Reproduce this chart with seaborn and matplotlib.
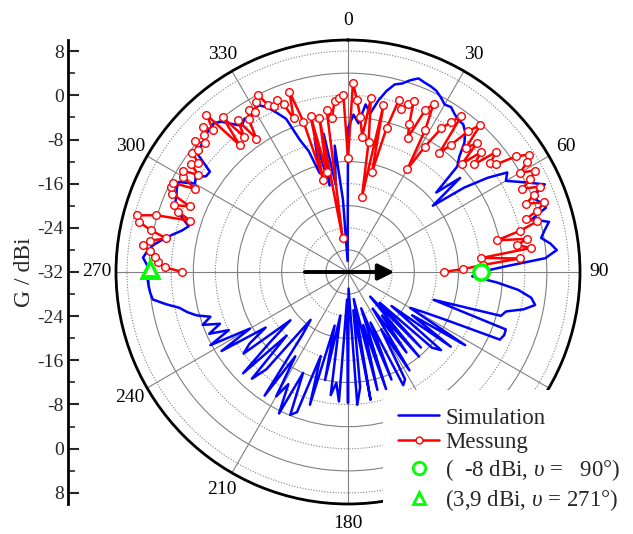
import numpy as np
import pandas as pd
import matplotlib
matplotlib.use("Agg")
import matplotlib.pyplot as plt
import seaborn as sns
from matplotlib.lines import Line2D
from matplotlib.patches import Rectangle

# Simulation, 2 deg steps starting at 0 deg (clockwise from top), gain in dBi
sim_gain = [
    -6, -3.5, -5, -1.5, -3, -0.5, 1.5, 3.0, 3.5, 4.5,
    5.3, 5.0, 4.8, 4.5, 3.8, 3.0, 3.2, 2.5, 2.0, 1.9,
    1.0, -0.5, -3.0, -4.5, -10.5, -5.5, -12.5, -6.0, -1.5, 2.0,
    1.0, 2.8, 4.8, 7.0, 4.0, 5.0, 5.7, 2.6, 5.5, 4.4,
    3.5, 5.0, 6.0, 3.8, -3.6, -8.0, -9.5, -5.0, -1.0, 1.5,
    2.4, 0.5, -2.5, -3.2, -15.7, -1.6, -1.5, -1.9, -12, -16.6,
    -19, -7, -18, -9, -22, -10, -11.5, -24, -13, -26,
    -12, -22, -14, -24, -11, -20, -10, -9.2, -22, -11,
    -25, -9.7, -22, -10, -27, -8.5, -25, -11, -7.9, -29,
    -8.3, -27, -8.5, -11.8, -9.5, -24, -12, -22, -7, -16,
    -5, -4.1, -12, -3.5, -9, -6, -14, -5, -18, -21,
    -9, -6, -16, -5.6, -13, -18.4, -8, -10, -14, -5,
    -11.5, -3.8, -8, -4.5, -7, -4, -5.8, -3.5, -2.0, -0.8,
    1.5, 3.7, 4.0, 4.2, 4.3, 4.0, 4.4, 5.2, 4.5, 3.5,
    2.0, 0.5, -1.0, -2.0, -0.5, 1.0, 1.7, 2.0, 2.5, 2.7,
    0.0, 0.5, -1.0, -1.1, 2.4, 3.0, 3.3, 3.8, 4.0, 4.3,
    3.5, 2.0, 0.7, 1.5, 1.0, 2.0, 2.2, 1.1, -0.5, -2.1,
    -6.6, -9, -13.4, -7, -16, -6.6, -16, -9, -18.9, -30,
]
sim_step = 2.0

# Messung, 1.5 deg steps from 270 deg over 0 deg to 90 deg
mess_gain = [
    -2.0, 1.2, 2.5, 3.0, 4.0, 5.5, 4.2, 1.5, 4.5, 7.0,
    7.6, 4.2, -2.0, 0.6, 1.8, -1.0, 2.9, 3.6, 3.5, -0.5,
    2.5, 3.1, 0.3, 2.5, 1.5, 3.5, 3.0, 4.4, 2.8, 4.0,
    5.0, 3.5, 6.3, -1.8, 4.0, -1.2, 2.0, -2.7, 1.0, 2.4,
    1.5, 3.0, 3.9, 1.5, 0.9, 1.8, 0.5, -2.5, 2.3, -3.6,
    -14.7, -3.0, -13.5, -3.6, -25.8, -2.4, -4.0, -1.0, -0.5, 0.1,
    -11.4, 2.2, -0.8, -3.8, -7.4, -0.3, -8.1, -18.2, -1.1, -13.3,
    -5.0, 0.5, -1.0, 0.3, 1.2, -3.0, -5.4, 0.5, 2.1, -2.7,
    -10.5, -5.4, -1.0, 1.0, 2.9, -4.8, -2.4, 1.5, 3.8, -1.0,
    1.0, -3.5, 0.5, -2.0, 2.5, 0.5, 1.2, 5.0, 7.0, 6.0,
    4.0, 6.5, 5.0, 3.0, 6.0, 4.5, 2.5, 5.7, 4.0, 1.6,
    3.5, 0.1, -4.4, 0.9, -1.0, 1.5, -7.7, -0.8, -7.5, -11.1, -14.7,
]
mess_start = 270.0
mess_step = 1.5

# marked points (gain dBi, angle deg)
mark_circle = (-8.0, 90.0)
mark_triangle = (3.9, 271.0)

angle_labels = ["0", "30", "60", "90", "", "", "180", "210", "240", "270", "300", "330"]
r_min, r_max = -32, 10

sns.set_theme(style="white")
plt.rcParams["font.family"] = ["Liberation Serif", "DejaVu Serif"]
plt.rcParams["mathtext.fontset"] = "custom"
plt.rcParams["mathtext.rm"] = "Liberation Serif"
plt.rcParams["mathtext.it"] = "Liberation Serif:italic"

sim_df = pd.DataFrame({
    "theta": np.deg2rad(np.arange(len(sim_gain) + 1) * sim_step),
    "gain": sim_gain + sim_gain[:1],
})
mess_df = pd.DataFrame({
    "theta": np.deg2rad(mess_start + np.arange(len(mess_gain)) * mess_step),
    "gain": mess_gain,
})

W, H = 633, 534
fig = plt.figure(figsize=(W / 100, H / 100), dpi=100)
cx, cy, R = 348, 272, 232
ax = fig.add_axes([(cx - R) / W, (H - cy - R) / H, 2 * R / W, 2 * R / H], projection="polar")
ax.set_theta_zero_location("N")
ax.set_theta_direction(-1)
ax.set_ylim(r_min, r_max)

# radial grid every 4 dB: solid / dotted alternating
ax.set_yticks(np.arange(-28, 9, 4))
ax.set_yticklabels([])
ax.yaxis.grid(True, color="#808080", lw=0.8)
for i, gl in enumerate(ax.yaxis.get_gridlines()):
    if i % 2:
        gl.set_linestyle((0, (1, 1.5)))
ax.tick_params(axis="y", which="both", length=0)

ax.set_xticks(np.deg2rad(np.arange(0, 360, 30)))
ax.set_xticklabels(angle_labels, fontsize=14)
ax.set_xticks(np.deg2rad(np.arange(15, 360, 30)), minor=True)
ax.xaxis.grid(True, which="major", color="#808080", lw=0.8)
ax.xaxis.grid(False, which="minor")
ax.tick_params(axis="x", which="major", direction="in", length=8, width=1.5, pad=7, colors="black")
ax.tick_params(axis="x", which="minor", direction="in", length=5, width=1.2)
ax.spines["polar"].set_linewidth(2.0)
ax.spines["polar"].set_color("black")
ax.set_facecolor("white")

sns.lineplot(data=sim_df, x="theta", y="gain", ax=ax, sort=False, estimator=None,
             color="#0000ff", lw=1.8, zorder=3)
sns.lineplot(data=mess_df, x="theta", y="gain", ax=ax, sort=False, estimator=None,
             color="#ff0000", lw=1.8, marker="o", markersize=5.5, markerfacecolor="white",
             markeredgecolor="#ff0000", markeredgewidth=1.0, zorder=4)
ax.plot(np.deg2rad(mark_circle[1]), mark_circle[0], ls="none", marker="o", ms=11,
        mfc="white", mec="#00ff00", mew=2.5, zorder=6)
ax.plot(np.deg2rad(mark_triangle[1]), mark_triangle[0], ls="none", marker="^", ms=11,
        mfc="white", mec="#00ff00", mew=2.5, zorder=6)
ax.annotate("", xy=(np.deg2rad(90), -23.1), xytext=(np.deg2rad(270), -23.7),
            arrowprops=dict(arrowstyle="-|>", color="black", lw=2.8, mutation_scale=24),
            zorder=7)
ax.set_xlabel("")
ax.set_ylabel("")

# linear gain scale on the left
lax = fig.add_axes([68 / W, (H - cy - R) / H, 0.01, 2 * R / H])
lax.set_ylim(-R / 5.52, R / 5.52)
ticks = np.arange(-40, 41, 8)
lax.set_yticks(ticks)
lax.set_yticklabels([f"{r_min + abs(t):d}" for t in ticks], fontsize=14)
lax.set_yticks(np.arange(-36, 37, 8), minor=True)
lax.tick_params(axis="y", which="major", direction="in", length=8, width=1.5, pad=3, left=True)
lax.tick_params(axis="y", which="minor", direction="in", length=5, width=1.2, left=True)
lax.set_xticks([])
for s in ["top", "right", "bottom"]:
    lax.spines[s].set_visible(False)
lax.spines["left"].set_linewidth(2)
lax.spines["left"].set_color("black")
lax.patch.set_alpha(0)
lax.set_ylabel("G / dBi", fontsize=17, labelpad=2)

# white box behind legend covering part of the plot
fig.patches.append(Rectangle((383 / W, 0), 1 - 383 / W, (H - 390) / H, transform=fig.transFigure,
                             facecolor="white", edgecolor="none", zorder=3))
handles = [
    Line2D([], [], color="#0000ff", lw=1.8),
    Line2D([], [], color="#ff0000", lw=1.8, marker="o", ms=5, mfc="white", mec="#ff0000"),
    Line2D([], [], ls="none", marker="o", ms=9, mfc="none", mec="#00ff00", mew=2),
    Line2D([], [], ls="none", marker="^", ms=9, mfc="none", mec="#00ff00", mew=2),
]
labels = ["Simulation", "Messung",
          "(  -8 dBi, $\\upsilon$ =   90°)", "(3,9 dBi, $\\upsilon$ = 271°)"]
leg = fig.legend(handles, labels, loc="upper left", bbox_to_anchor=(387 / W, 1 - 396 / H),
                 frameon=False, fontsize=16.5, handlelength=1.75, handletextpad=0.3,
                 labelspacing=0.17, borderpad=0)
leg.set_zorder(5)

fig.savefig("out.png", dpi=100)
